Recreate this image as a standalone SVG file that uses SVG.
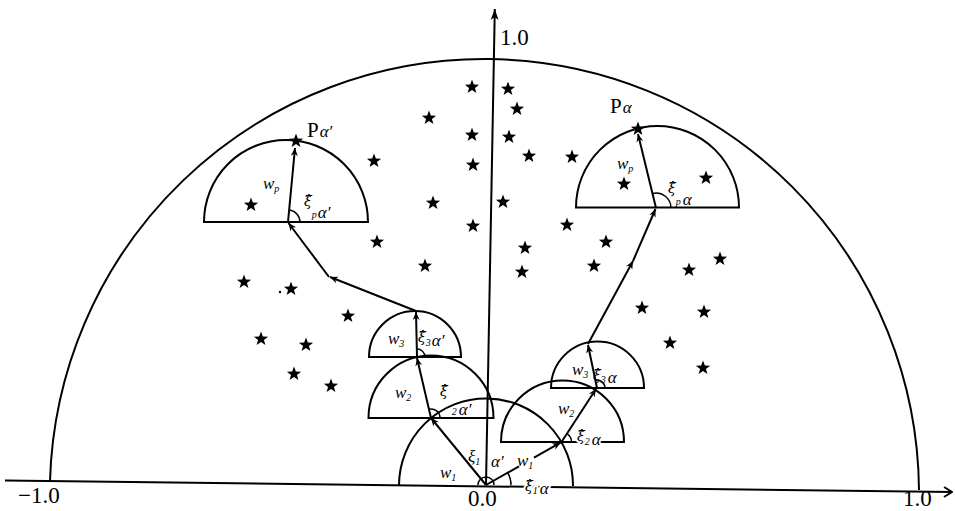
<svg xmlns="http://www.w3.org/2000/svg" xmlns:xlink="http://www.w3.org/1999/xlink" width="955" height="511" viewBox="0 0 955 511">
<style>
.ln{fill:none;stroke:#000;stroke-width:2}
.arc{fill:none;stroke:#000;stroke-width:1.5}
.vec{fill:none;stroke:#000;stroke-width:2;marker-end:url(#ah)}
.m{font-family:"Liberation Serif","DejaVu Serif",serif;font-style:italic;font-size:17px;fill:#000}
.x{font-family:"DejaVu Serif",serif;font-style:italic;font-size:14px}
.s{font-size:10px}
.ax{font-family:"Liberation Serif","DejaVu Serif",serif;font-size:23px;fill:#000}
.P{font-family:"Liberation Serif","DejaVu Serif",serif;font-size:21px;fill:#000}
.halo{stroke:#fff;stroke-width:4;paint-order:stroke;stroke-linejoin:round}
</style>
<defs>
<marker id="ah" viewBox="-10 -5 11 10" refX="0" refY="0" markerWidth="11" markerHeight="10" orient="auto" markerUnits="userSpaceOnUse"><path d="M0,0 L-8,-3.5 L-5.5,0 L-8,3.5 Z" fill="#000"/></marker>
<marker id="ay" viewBox="-12 -6 13 12" refX="0" refY="0" markerWidth="13" markerHeight="12" orient="auto" markerUnits="userSpaceOnUse"><path d="M0,0 L-11,-4 L-8,0 L-11,4 Z" fill="#000"/></marker>
<marker id="ax" viewBox="-10 -6 11 12" refX="0" refY="0" markerWidth="11" markerHeight="12" orient="auto" markerUnits="userSpaceOnUse"><path d="M-8,-5 L0,0 L-8,5" fill="none" stroke="#000" stroke-width="1.8"/></marker>
<path id="st" d="M0,-7.5 L1.85,-2.5 L7.13,-2.32 L2.95,0.95 L4.41,6.07 L0,3.1 L-4.41,6.07 L-2.95,0.95 L-7.13,-2.32 L-1.85,-2.5 Z" fill="#000"/>
</defs>

<g id="axes">
<line class="ln" x1="5" y1="480.5" x2="952" y2="492" marker-end="url(#ax)"/>
<line class="ln" x1="486" y1="485" x2="494.8" y2="9" marker-end="url(#ay)"/>
<text class="ax" x="500" y="45">1.0</text>
<text class="ax" x="18" y="503">−1.0</text>
<text class="ax" x="468" y="506">0.0</text>
<text class="ax" x="903" y="506">1.0</text>
</g>

<g id="unit-circle">
<path class="ln" d="M50,481 A434.6,434.6 0 0 1 919,490"/>
</g>

<g id="semi-origin"><path class="ln" d="M399,485 A87,87 0 0 1 573,486"/></g>
<g id="semi-left-2"><path class="ln" d="M368.5,418 A62.5,62.5 0 0 1 493.5,418 Z"/></g>
<g id="semi-left-3"><path class="ln" d="M369,357 A46,46 0 0 1 461,357 Z"/></g>
<g id="semi-left-p"><path class="ln" d="M204,222 A82,82 0 0 1 368,222 Z"/></g>
<g id="semi-right-2"><path class="ln" d="M501,442 A61.5,61.5 0 0 1 624,442 Z"/></g>
<g id="semi-right-3"><path class="ln" d="M551,388 A46.5,46.5 0 0 1 644,388 Z"/></g>
<g id="semi-right-p"><path class="ln" d="M576,207.5 A81.5,81.5 0 0 1 739,207.5 Z"/></g>

<g id="angle-arcs">
<path class="arc" d="M494,485 A8,8 0 0 0 478,485"/>
<path class="arc" d="M511,485 A25,25 0 0 0 507.7,472.6"/>
<path class="arc" d="M440,418 A9,9 0 0 0 429,409.2"/>
<path class="arc" d="M425,357 A8,8 0 0 0 416.6,349"/>
<path class="arc" d="M300,222 A12,12 0 0 0 289.1,210"/>
<path class="arc" d="M571.5,442 A10,10 0 0 0 566.9,433.6"/>
<path class="arc" d="M605,388 A8,8 0 0 0 595.4,380.2"/>
<path class="arc" d="M671,208 A15,15 0 0 0 652.6,193.4"/>
</g>

<g id="connectors">
<line class="vec" x1="486" y1="485" x2="431" y2="418"/>
<line class="vec" x1="431" y1="418" x2="417" y2="358"/>
<line class="vec" x1="417" y1="357" x2="416" y2="312"/>
<line class="vec" x1="416" y1="311" x2="330" y2="277"/>
<line class="vec" x1="329" y1="277" x2="288.5" y2="223"/>
<line class="vec" x1="288" y1="222" x2="295" y2="148"/>
<line class="ln" x1="486" y1="485" x2="519" y2="466.3"/>
<line class="vec" x1="534" y1="457.7" x2="560.5" y2="442.7"/>
<line class="vec" x1="561.5" y1="442" x2="596" y2="389"/>
<line class="vec" x1="597" y1="388" x2="588" y2="345"/>
<line class="vec" x1="588" y1="344" x2="633" y2="261"/>
<line class="vec" x1="633" y1="261" x2="655.5" y2="209"/>
<line class="vec" x1="656" y1="208" x2="638" y2="134"/>
</g>

<g id="stars">
<use href="#st" x="472" y="87"/>
<use href="#st" x="508" y="89"/>
<use href="#st" x="517" y="109"/>
<use href="#st" x="429" y="118"/>
<use href="#st" x="472" y="135"/>
<use href="#st" x="509" y="137"/>
<use href="#st" x="529" y="156"/>
<use href="#st" x="572" y="157"/>
<use href="#st" x="374" y="161"/>
<use href="#st" x="473" y="165"/>
<use href="#st" x="433" y="203"/>
<use href="#st" x="503" y="202"/>
<use href="#st" x="473" y="226"/>
<use href="#st" x="377" y="242"/>
<use href="#st" x="525" y="248"/>
<use href="#st" x="567" y="225"/>
<use href="#st" x="606" y="242"/>
<use href="#st" x="425" y="266"/>
<use href="#st" x="522" y="272"/>
<use href="#st" x="594" y="266"/>
<use href="#st" x="624" y="184"/>
<use href="#st" x="706" y="178"/>
<use href="#st" x="720" y="259"/>
<use href="#st" x="689" y="270"/>
<use href="#st" x="642" y="308"/>
<use href="#st" x="704" y="312"/>
<use href="#st" x="670" y="343"/>
<use href="#st" x="703" y="368"/>
<use href="#st" x="244" y="282"/>
<use href="#st" x="291" y="289"/>
<use href="#st" x="348" y="316"/>
<use href="#st" x="261" y="339"/>
<use href="#st" x="306" y="345"/>
<use href="#st" x="294" y="374"/>
<use href="#st" x="331" y="386"/>
<use href="#st" x="251" y="205"/>
<use href="#st" x="296" y="141"/>
<use href="#st" x="638" y="129"/>
<circle cx="280" cy="292" r="1.2" fill="#000"/>
</g>

<g id="labels">
<text class="P" x="307" y="137">P<tspan class="m" font-size="18" dx="1">α′</tspan></text>
<text class="P" x="610" y="113">P<tspan class="m" font-size="18" dx="1">α</tspan></text>

<text class="m" x="440" y="478">w<tspan class="s" dy="3">1</tspan></text>
<text class="m" x="468" y="462">ξ<tspan class="s" dy="3">1</tspan></text>
<text class="m" x="491" y="467">α′</text>
<text class="m" x="517" y="466">w<tspan class="s" dy="3">1</tspan></text>
<text class="m halo" x="525" y="491"><tspan class="x">ξ̂</tspan><tspan class="s" dy="3">1</tspan><tspan dx="2">α</tspan></text>

<text class="m" x="395" y="398">w<tspan class="s" dy="3">2</tspan></text>
<text class="m" x="440" y="396"><tspan class="x">ξ̂</tspan><tspan class="s" dx="4" dy="19">2</tspan><tspan dx="2">α′</tspan></text>

<text class="m" x="388" y="344">w<tspan class="s" dy="3">3</tspan></text>
<text class="m" x="418" y="342"><tspan class="x">ξ̂</tspan><tspan class="s" dy="4">3</tspan><tspan dx="1">α′</tspan></text>

<text class="m" x="558" y="414">w<tspan class="s" dy="3">2</tspan></text>
<text class="m halo" x="577" y="441"><tspan class="x">ξ̂</tspan><tspan class="s" dy="4">2</tspan><tspan dx="2">α</tspan></text>

<text class="m" x="572" y="375">w<tspan class="s" dy="3">3</tspan></text>
<text class="m" x="593" y="380"><tspan class="x">ξ̂</tspan><tspan class="s" dy="3">3</tspan><tspan dx="2">α</tspan></text>

<text class="m" x="263" y="189">w<tspan class="s" dy="3">p</tspan></text>
<text class="m" x="304" y="206"><tspan class="x">ξ̂</tspan><tspan class="s" dx="0" dy="12">p</tspan><tspan dx="1">α′</tspan></text>

<text class="m" x="617" y="169">w<tspan class="s" dy="3">p</tspan></text>
<text class="m" x="668" y="193"><tspan class="x">ξ̂</tspan><tspan class="s" dx="0" dy="12">p</tspan><tspan dx="2">α</tspan></text>
</g>
</svg>
